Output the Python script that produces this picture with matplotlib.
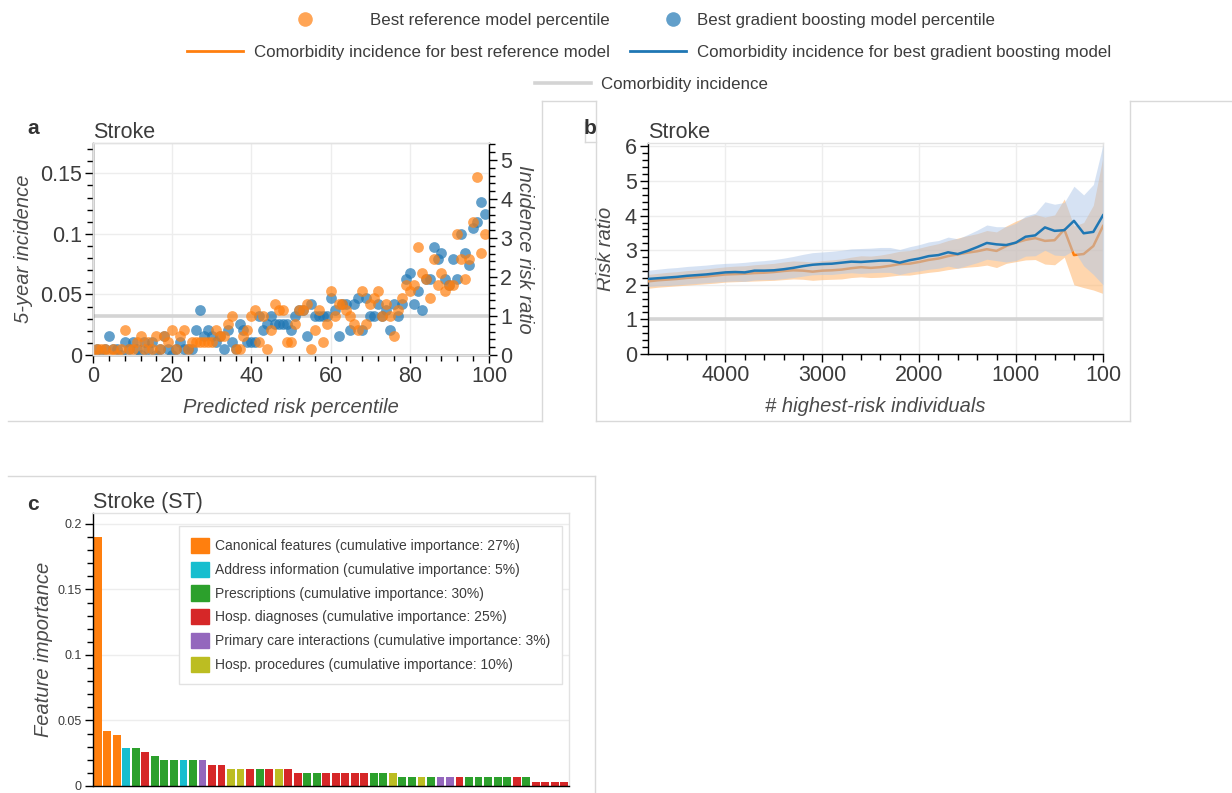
import numpy as np
import matplotlib
matplotlib.use("Agg")
from matplotlib import pyplot as plt
from matplotlib.lines import Line2D
from matplotlib.patches import Patch
from matplotlib.ticker import MultipleLocator, FixedLocator, FuncFormatter

plt.rcParams['font.family'] = ['Liberation Sans', 'DejaVu Sans']

ORANGE = '#ff7f0e'
BLUE = '#1f77b4'
TXT = '#3c3c3c'
GRID = '#ededed'
FRAME = '#e2e2e2'
BORDER = '#d9d9d9'

# --- panel a: 5-year incidence per predicted-risk percentile
percentile = np.arange(100)
ref_incidence = [0, .005, .005, .005, 0, .005, 0, .005, .021, .005,
                 .005, .011, .016, .005, .011, .005, .016, .005, .016, .011,
                 .021, .005, .016, .021, .005, .011, .011, .011, .011, .011,
                 .011, .021, .016, .016, .026, .032, .005, .005, .016, .021,
                 .032, .037, .011, .032, .005, .021, .042, .037, .037, .011,
                 .011, .026, .037, .037, .042, .005, .021, .037, .011, .026,
                 .053, .032, .042, .042, .037, .032, .026, .021, .053, .026,
                 .042, .047, .053, .032, .042, .032, .016, .037, .047, .058,
                 .053, .058, .089, .068, .063, .047, .079, .058, .068, .053,
                 .058, .058, .100, .079, .063, .079, .110, .147, .084, .100]
gb_incidence = [0, .005, 0, .005, .016, .005, .005, 0, .011, .005,
                .011, .005, 0, .011, .005, .011, 0, .005, .016, .005,
                0, .005, .011, .005, .005, .005, .021, .037, .016, .021,
                .016, .011, .016, .005, .021, .011, .005, .026, .021, .011,
                .011, .011, .032, .021, .026, .032, .026, .026, .026, .026,
                .021, .032, .037, .037, .016, .042, .032, .032, .032, .032,
                .047, .037, .016, .042, .042, .021, .042, .047, .021, .047,
                .032, .032, .042, .032, .037, .021, .042, .032, .042, .063,
                .068, .042, .053, .037, .063, .063, .089, .079, .084, .063,
                .058, .079, .063, .100, .084, .074, .105, .110, .126, .116]
comorbidity_incidence = 0.0322

# --- panel b: risk ratio among the n highest-risk individuals
n_highest = np.arange(4800, 0, -100)
gb_rr = [2.17, 2.19, 2.21, 2.23, 2.26, 2.28, 2.30, 2.33, 2.36, 2.37,
         2.36, 2.41, 2.41, 2.42, 2.45, 2.49, 2.54, 2.58, 2.60, 2.61,
         2.64, 2.67, 2.66, 2.68, 2.70, 2.70, 2.64, 2.71, 2.76, 2.83,
         2.86, 2.94, 2.89, 2.98, 3.09, 3.21, 3.17, 3.15, 3.22, 3.39,
         3.43, 3.66, 3.56, 3.58, 3.85, 3.49, 3.53, 4.01]
gb_hi = [2.42, 2.45, 2.48, 2.50, 2.53, 2.55, 2.57, 2.60, 2.62, 2.63,
         2.65, 2.68, 2.70, 2.73, 2.77, 2.82, 2.88, 2.93, 2.95, 2.97,
         3.00, 3.04, 3.05, 3.06, 3.08, 3.08, 3.02, 3.10, 3.16, 3.24,
         3.28, 3.38, 3.33, 3.45, 3.58, 3.73, 3.68, 3.68, 3.78, 3.99,
         4.07, 4.40, 4.33, 4.38, 4.85, 4.60, 4.90, 6.05]
gb_lo = [1.95, 1.97, 1.98, 2.00, 2.02, 2.04, 2.06, 2.08, 2.10, 2.11,
         2.10, 2.14, 2.15, 2.15, 2.18, 2.21, 2.25, 2.29, 2.30, 2.30,
         2.33, 2.35, 2.33, 2.35, 2.36, 2.36, 2.30, 2.36, 2.40, 2.45,
         2.48, 2.54, 2.48, 2.56, 2.64, 2.74, 2.70, 2.66, 2.70, 2.83,
         2.84, 3.00, 2.86, 2.84, 3.00, 2.55, 2.30, 2.00]
ref_rr = [2.10, 2.13, 2.15, 2.17, 2.20, 2.22, 2.24, 2.27, 2.30, 2.31,
          2.32, 2.34, 2.35, 2.37, 2.40, 2.42, 2.41, 2.38, 2.41, 2.42,
          2.44, 2.48, 2.51, 2.49, 2.51, 2.55, 2.60, 2.61, 2.66, 2.72,
          2.76, 2.83, 2.88, 2.93, 2.97, 3.03, 2.98, 3.12, 3.22, 3.30,
          3.35, 3.27, 3.29, 3.60, 2.86, 2.89, 3.12, 3.70]
ref_hi = [2.30, 2.33, 2.36, 2.38, 2.41, 2.43, 2.46, 2.49, 2.52, 2.54,
          2.55, 2.58, 2.60, 2.62, 2.66, 2.69, 2.68, 2.66, 2.70, 2.72,
          2.75, 2.80, 2.84, 2.83, 2.86, 2.91, 2.97, 2.99, 3.06, 3.13,
          3.19, 3.28, 3.35, 3.42, 3.48, 3.57, 3.53, 3.70, 3.84, 3.95,
          4.03, 3.96, 4.02, 4.48, 3.70, 3.80, 4.30, 5.70]
ref_lo = [1.90, 1.93, 1.95, 1.97, 1.99, 2.01, 2.03, 2.05, 2.08, 2.09,
          2.10, 2.11, 2.12, 2.13, 2.15, 2.17, 2.16, 2.13, 2.15, 2.16,
          2.17, 2.21, 2.23, 2.21, 2.22, 2.25, 2.28, 2.28, 2.32, 2.36,
          2.39, 2.44, 2.48, 2.51, 2.53, 2.57, 2.50, 2.62, 2.67, 2.72,
          2.73, 2.60, 2.58, 2.80, 2.00, 1.92, 1.85, 1.75]

# --- panel c: feature importances of the top 50 features
importance = [0.190, 0.042, 0.039, 0.029, 0.029, 0.026, 0.023, 0.0195, 0.0195, 0.0195,
              0.0195, 0.0195, 0.0163, 0.0163, 0.013, 0.013, 0.013, 0.013, 0.013, 0.013,
              0.013, 0.0098, 0.0098, 0.0098, 0.0098, 0.0098, 0.0098, 0.0098, 0.0098, 0.0098,
              0.0098, 0.0098, 0.0065, 0.0065, 0.0065, 0.0065, 0.0065, 0.0065, 0.0065, 0.0065,
              0.0065, 0.0065, 0.0065, 0.0065, 0.0065, 0.0065, 0.0033, 0.0033, 0.0033, 0.0033]
feature_group = [0, 0, 0, 1, 2, 3, 2, 2, 2, 1,
                 2, 4, 3, 3, 5, 5, 3, 2, 3, 5,
                 3, 3, 2, 2, 3, 3, 3, 3, 3, 2,
                 2, 5, 2, 2, 5, 2, 4, 4, 3, 2,
                 2, 2, 2, 2, 3, 2, 3, 3, 3, 3]
group_names = ['Canonical features', 'Address information', 'Prescriptions',
               'Hosp. diagnoses', 'Primary care interactions', 'Hosp. procedures']
group_share = [27, 5, 30, 25, 3, 10]
group_colors = ['#ff7f0e', '#17becf', '#2ca02c', '#d62728', '#9467bd', '#bcbd22']

W, H = 1232, 793
fig = plt.figure(figsize=(W / 100, H / 100), dpi=100)


def px(x, y):
    return x / W, 1 - y / H


def box(left, top, right, bottom):
    x0, y0 = px(left, bottom)
    x1, y1 = px(right, top)
    return [x0, y0, x1 - x0, y1 - y0]


def style(ax, size=15.5):
    ax.set_facecolor('white')
    for s in ax.spines.values():
        s.set_color(FRAME)
        s.set_linewidth(1)
    ax.tick_params(which='major', length=6, width=1, direction='out', color='black',
                   labelcolor=TXT, labelsize=size, pad=2)
    ax.tick_params(which='minor', length=4, width=1, direction='out', color='black')
    ax.grid(True, which='major', color=GRID, lw=1)
    ax.set_axisbelow(True)


fmt = FuncFormatter(lambda v, _: f'{v:g}')
lab = dict(fontsize=14.5, style='italic', color='#4a4a4a')

# panel a
axa = fig.add_axes(box(93, 143, 489, 355))
style(axa)
axa.spines['left'].set_color('black')
axa.spines['bottom'].set_color('black')
axa.axhline(comorbidity_incidence, color='#d4d4d4', lw=2.6, zorder=1)
axa.scatter(percentile, ref_incidence, s=60, color=ORANGE, alpha=0.7, lw=0, zorder=3)
axa.scatter(percentile, gb_incidence, s=60, color=BLUE, alpha=0.7, lw=0, zorder=2)
axa.set_xlim(0, 100)
axa.set_ylim(0, 0.175)
axa.xaxis.set_major_locator(MultipleLocator(20))
axa.xaxis.set_minor_locator(MultipleLocator(4))
axa.yaxis.set_major_locator(MultipleLocator(0.05))
axa.yaxis.set_minor_locator(MultipleLocator(0.01))
axa.yaxis.set_major_formatter(fmt)
axa.set_xlabel('Predicted risk percentile', labelpad=8, **lab)
axa.set_ylabel('5-year incidence', labelpad=5, **lab)
axa.set_title('Stroke', loc='left', fontsize=15.5, color=TXT, pad=0)

axr = axa.twinx()
style(axr)
axr.grid(False)
axr.spines['right'].set_color('black')
axr.set_ylim(0, 0.175 / comorbidity_incidence)
axr.yaxis.set_major_locator(MultipleLocator(1))
axr.yaxis.set_minor_locator(MultipleLocator(0.2))
axr.set_ylabel('Incidence risk ratio', rotation=270, labelpad=16, **lab)

# panel b
axb = fig.add_axes(box(648, 143, 1103, 354))
style(axb)
axb.spines['left'].set_color('black')
axb.spines['bottom'].set_color('black')
axb.axhline(1, color='#d4d4d4', lw=2.6, zorder=1)
axb.fill_between(n_highest, ref_lo, ref_hi, color='#ffbb78', alpha=0.6, lw=0, zorder=2)
axb.plot(n_highest, ref_rr, color=ORANGE, lw=1.8, zorder=3)
axb.fill_between(n_highest, gb_lo, gb_hi, color='#aec7e8', alpha=0.5, lw=0, zorder=4)
axb.plot(n_highest, gb_rr, color=BLUE, lw=1.8, zorder=5)
axb.set_xlim(4800, 100)
axb.set_ylim(0, 6.1)
axb.xaxis.set_major_locator(FixedLocator([4000, 3000, 2000, 1000, 100]))
axb.xaxis.set_minor_locator(FixedLocator(np.arange(4600, 100, -200)))
axb.yaxis.set_major_locator(MultipleLocator(1))
axb.yaxis.set_minor_locator(MultipleLocator(0.2))
axb.xaxis.set_major_formatter(fmt)
axb.set_xlabel('# highest-risk individuals', labelpad=8, **lab)
axb.set_ylabel('Risk ratio', labelpad=7, **lab)
axb.set_title('Stroke', loc='left', fontsize=15.5, color=TXT, pad=0)

# panel c
axc = fig.add_axes(box(93, 513, 569, 786))
style(axc, size=9)
axc.grid(False)
axc.yaxis.grid(True, which='major', color=GRID, lw=1)
axc.spines['left'].set_color('black')
axc.spines['bottom'].set_color('black')
pos = np.arange(len(importance))
axc.bar(pos, importance, width=0.82, color=[group_colors[g] for g in feature_group], zorder=2)
axc.set_xlim(-0.5, len(importance) - 0.5)
axc.set_ylim(0, 0.2083)
axc.set_xticks([])
axc.yaxis.set_major_locator(MultipleLocator(0.05))
axc.yaxis.set_minor_locator(MultipleLocator(0.01))
axc.yaxis.set_major_formatter(fmt)
axc.set_ylabel('Feature importance', labelpad=3, **lab)
axc.set_title('Stroke (ST)', loc='left', fontsize=15.5, color=TXT, pad=-1)
handles = [Patch(color=c) for c in group_colors]
labels = [f'{n} (cumulative importance: {p}%)' for n, p in zip(group_names, group_share)]
axc.legend(handles, labels, loc='upper left', bbox_to_anchor=(0.166, 0.978),
           fontsize=10, handlelength=1.3, handleheight=1.3, labelspacing=0.62,
           handletextpad=0.45, borderpad=0.85, fancybox=False, framealpha=1,
           edgecolor=FRAME, labelcolor=TXT)

# top legend, one entry at a time: (handle, label, left edge of handle, row y,
# handle length, gap to text)
top_fs = 12.2
em = top_fs * 100 / 72
dot = dict(ls='', marker='o', ms=10.5, alpha=0.7, mew=0)
entries = [
    (Line2D([], [], color=ORANGE, **dot), 'Best reference model percentile', 295, 20, 20, 55),
    (Line2D([], [], color=BLUE, **dot), 'Best gradient boosting model percentile', 663, 20, 20, 14),
    (Line2D([], [], color=ORANGE, lw=2), 'Comorbidity incidence for best reference model', 187, 52, 56, 11),
    (Line2D([], [], color=BLUE, lw=2), 'Comorbidity incidence for best gradient boosting model', 630, 52, 56, 11),
    (Line2D([], [], color='#d4d4d4', lw=2.6), 'Comorbidity incidence', 535, 84, 56, 10),
]
for handle, text, x, y, hlen, gap in entries:
    fig.legend([handle], [text], loc='center left', bbox_to_anchor=px(x, y),
               frameon=False, fontsize=top_fs, labelcolor=TXT, borderpad=0,
               borderaxespad=0, handlelength=hlen / em, handletextpad=gap / em)

# panel letters
for letter, (x, y) in zip('abc', [(33, 128), (590, 128), (33, 505)]):
    fig.text(*px(x, y), letter, fontsize=15, fontweight='bold', color='#333333',
             ha='center', va='center')

# frames around the panels
frame_lines = [
    [(8, 421), (542, 421)], [(542, 421), (542, 101)], [(542, 101), (596, 101)],
    [(596, 101), (596, 421)], [(585, 142), (596, 142)], [(585, 122), (585, 142)],
    [(596, 421), (1130, 421)], [(1130, 421), (1130, 101)], [(1130, 101), (1232, 101)],
    [(8, 476), (595, 476)], [(595, 476), (595, 793)],
]
for (x0, y0), (x1, y1) in frame_lines:
    a, b = px(x0, y0)
    c, d = px(x1, y1)
    fig.add_artist(Line2D([a, c], [b, d], color=BORDER, lw=1))

fig.savefig('out.png', dpi=100)
